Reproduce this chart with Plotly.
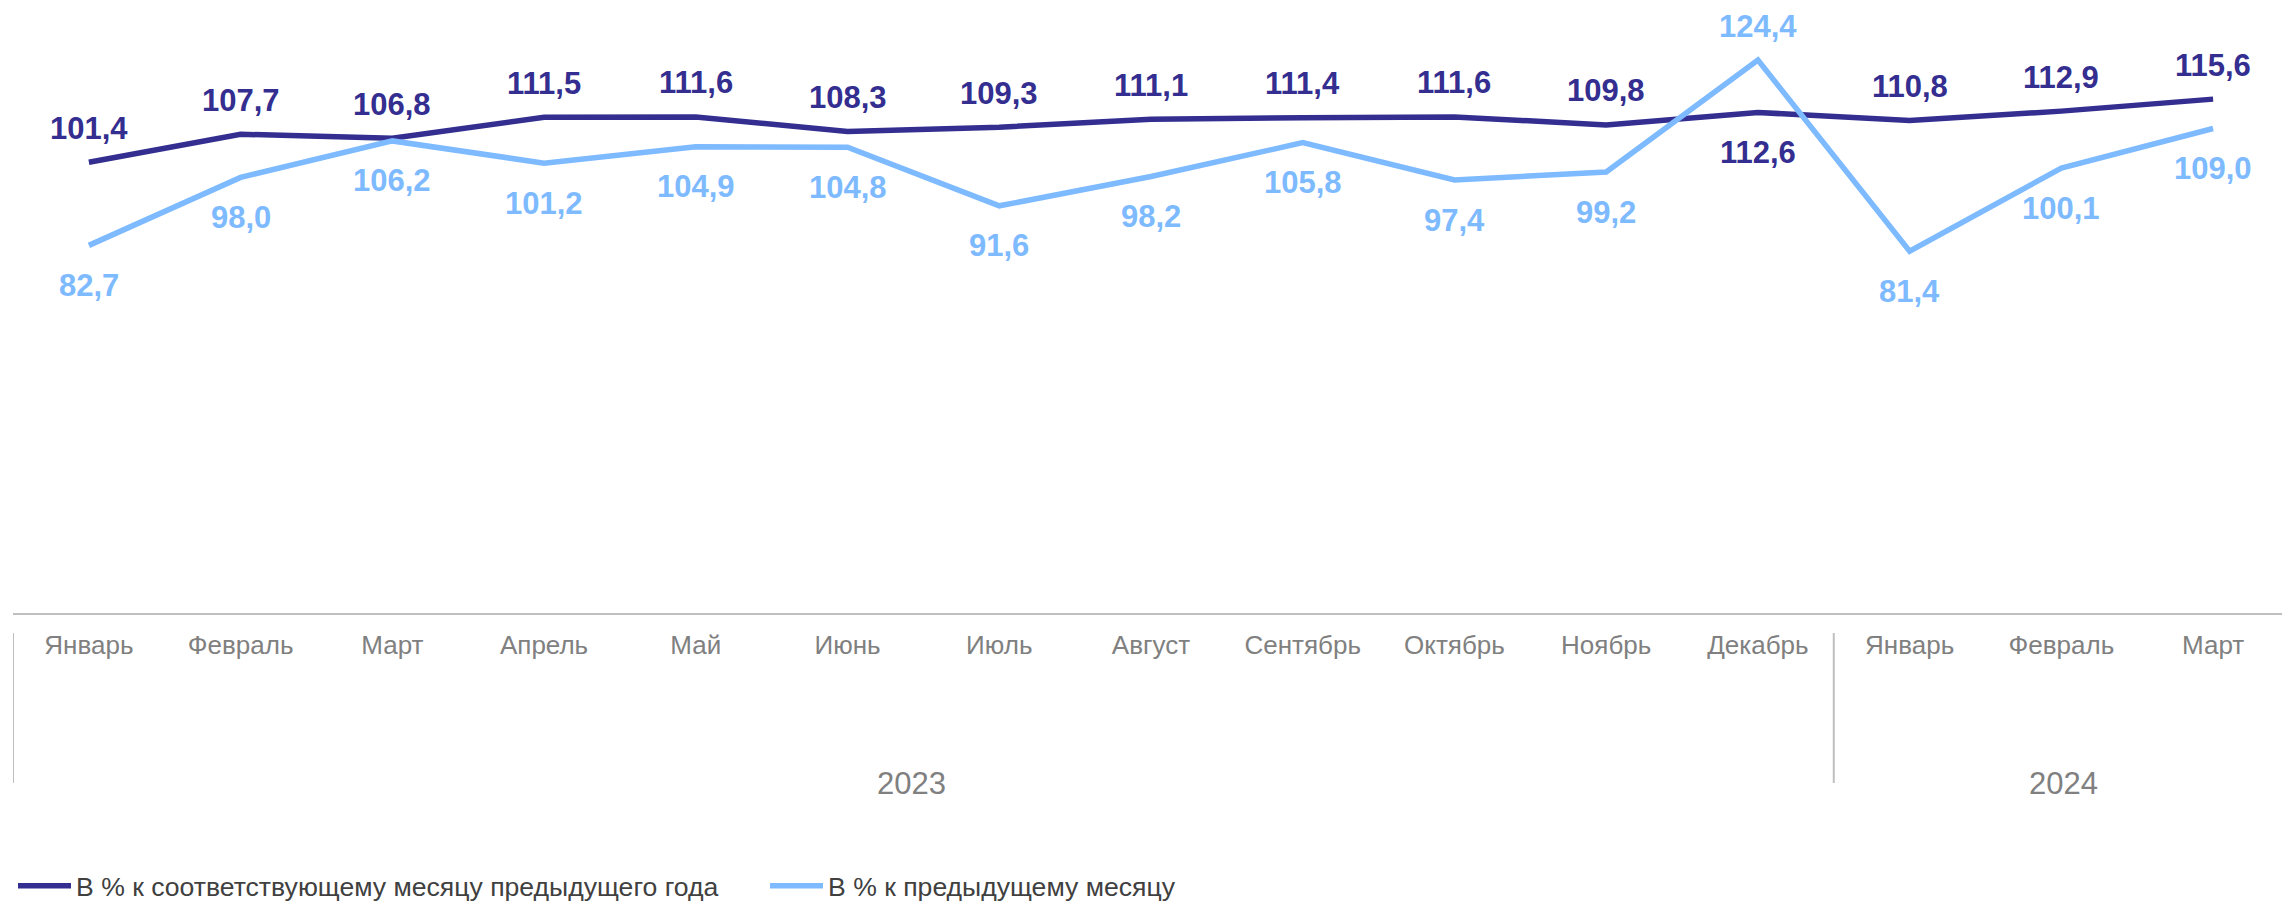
import plotly.graph_objects as go

months = ["Январь", "Февраль", "Март", "Апрель", "Май", "Июнь", "Июль", "Август",
          "Сентябрь", "Октябрь", "Ноябрь", "Декабрь", "Январь", "Февраль", "Март"]
years = ["2023", "2024"]
year_counts = [12, 3]

yoy = [101.4, 107.7, 106.8, 111.5, 111.6, 108.3, 109.3, 111.1, 111.4, 111.6, 109.8, 112.6, 110.8, 112.9, 115.6]
mom = [82.7, 98.0, 106.2, 101.2, 104.9, 104.8, 91.6, 98.2, 105.8, 97.4, 99.2, 124.4, 81.4, 100.1, 109.0]

name_yoy = "В % к соответствующему месяцу предыдущего года"
name_mom = "В % к предыдущему месяцу"

# label placement: +1 above the point, -1 below
yoy_pos = [1, 1, 1, 1, 1, 1, 1, 1, 1, 1, 1, -1, 1, 1, 1]
mom_pos = [-1, -1, -1, -1, -1, -1, -1, -1, -1, -1, -1, 1, -1, -1, -1]

DARK = "#332E8F"
LIGHT = "#7DBAFF"
FONT = "Arial, Liberation Sans, sans-serif"

x = list(range(len(months)))

fig = go.Figure()
fig.add_trace(go.Scatter(x=x, y=yoy, mode="lines", name=name_yoy,
                         line=dict(color=DARK, width=5.5), hoverinfo="skip"))
fig.add_trace(go.Scatter(x=x, y=mom, mode="lines", name=name_mom,
                         line=dict(color=LIGHT, width=5.5), hoverinfo="skip"))

def fmt(v):
    return f"{v:.1f}".replace(".", ",")

for series, pos, color in ((yoy, yoy_pos, DARK), (mom, mom_pos, LIGHT)):
    for i, (v, p) in enumerate(zip(series, pos)):
        fig.add_annotation(x=i, y=v, text=fmt(v), showarrow=False,
                           xanchor="center", yanchor="middle",
                           yshift=34 if p > 0 else -40,
                           font=dict(family=FONT, size=31, color=color, weight="bold"))

# year groups: separators and labels
FIG_H = 902
PLOT_H = 613
def py(px):
    return (PLOT_H - px) / PLOT_H

year_xshift = {"2023": -12, "2024": 2}
start = -0.5
for yr, cnt in zip(years, year_counts):
    fig.add_shape(type="line", xref="x", yref="paper", x0=start, x1=start,
                  y0=py(633), y1=py(783), line=dict(color="#BFBFBF", width=2))
    fig.add_annotation(x=start + cnt / 2, y=py(783), xref="x", yref="paper",
                       text=yr, showarrow=False, xanchor="center", yanchor="middle",
                       xshift=year_xshift[yr],
                       font=dict(family=FONT, size=31, color="#808080"))
    start += cnt

fig.update_layout(
    width=2282, height=FIG_H,
    margin=dict(l=13, r=0, t=0, b=FIG_H - PLOT_H, pad=0, autoexpand=False),
    paper_bgcolor="white", plot_bgcolor="white",
    showlegend=True,
    legend=dict(orientation="h", x=0, xanchor="left",
                yref="container", y=1 - 886 / FIG_H, yanchor="middle",
                font=dict(family=FONT, size=26.6, color="#404040"),
                itemwidth=53, entrywidth=684, tracegroupgap=0,
                bgcolor="rgba(0,0,0,0)"),
    xaxis=dict(range=[-0.5, 14.454], tickmode="array", tickvals=x, ticktext=months,
               showgrid=False, zeroline=False, showline=True, linecolor="#BFBFBF",
               linewidth=2, ticks="", ticklabelstandoff=8,
               tickfont=dict(family=FONT, size=26, color="#808080"), fixedrange=True),
    yaxis=dict(range=[0, 137.9], visible=False, showgrid=False, zeroline=False,
               fixedrange=True),
)

fig.write_html("out.html", config={"displayModeBar": False},
               post_script="document.body.style.margin='0';document.body.style.overflow='hidden';")
